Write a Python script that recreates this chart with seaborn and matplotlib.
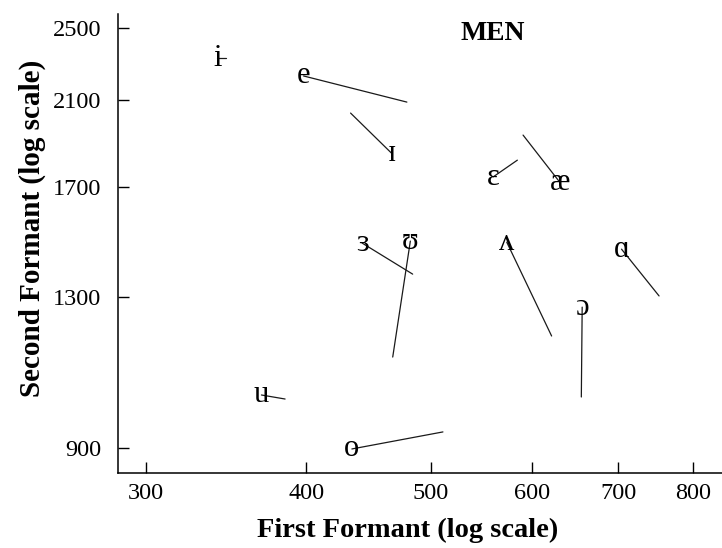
import matplotlib
matplotlib.use("Agg")
import matplotlib.pyplot as plt
import matplotlib.ticker as mticker
import numpy as np
import pandas as pd
import seaborn as sns

# Vowel symbols and formant trajectories (onset -> offset), Hz
vowels   = ["i", "e", "ɪ", "ɛ", "æ", "ɜ", "ʊ", "ʌ", "ɑ", "ɔ", "u", "o"]
f1_start = [341, 398, 466, 559, 630, 442, 482, 573, 704, 656, 369, 434]
f2_start = [2324, 2225, 1844, 1740, 1719, 1482, 1489, 1485, 1460, 1268, 1024, 898]
f1_end   = [346, 479, 433, 584, 590, 484, 467, 621, 753, 655, 385, 511]
f2_end   = [2324, 2088, 2033, 1813, 1927, 1374, 1123, 1182, 1303, 1019, 1014, 936]

x_ticks = [300, 400, 500, 600, 700, 800]
y_ticks = [900, 1300, 1700, 2100, 2500]

sns.set_theme(style="ticks")
plt.rcParams["font.family"] = ["Liberation Serif", "DejaVu Serif"]
plt.rcParams["text.color"] = "black"
plt.rcParams["axes.labelcolor"] = "black"

rows = []
for v, a, b, c, d in zip(vowels, f1_start, f2_start, f1_end, f2_end):
    rows.append({"vowel": v, "phase": 0, "F1": a, "F2": b})
    rows.append({"vowel": v, "phase": 1, "F1": c, "F2": d})
df = pd.DataFrame(rows)

fig = plt.figure(figsize=(7.22, 5.48), dpi=100)
ax = fig.add_axes([118 / 722, 75 / 548, 1 - 118 / 722, (473 - 14) / 548])

sns.lineplot(data=df, x="F1", y="F2", units="vowel", estimator=None, sort=False,
             color="#1a1a1a", linewidth=0.9, ax=ax, legend=False)

for v, a, b in zip(vowels, f1_start, f2_start):
    ax.text(a, b, v, ha="center", va="center", fontsize=22, color="black",
            family=["Liberation Serif", "DejaVu Serif"], zorder=5)

ax.set_xscale("log")
ax.set_yscale("log")
ax.set_xlim(285.3, 843)
ax.set_ylim(847, 2587)

ax.xaxis.set_major_locator(mticker.FixedLocator(x_ticks))
ax.yaxis.set_major_locator(mticker.FixedLocator(y_ticks))
ax.xaxis.set_minor_locator(mticker.NullLocator())
ax.yaxis.set_minor_locator(mticker.NullLocator())
ax.set_xticklabels([str(t) for t in x_ticks])
ax.set_yticklabels([str(t) for t in y_ticks])
ax.tick_params(axis="both", direction="in", length=8, width=1, labelsize=17.5,
               colors="black")
ax.tick_params(axis="y", pad=12)
ax.tick_params(axis="x", pad=7)

for s in ["top", "right"]:
    ax.spines[s].set_visible(False)
for s in ["left", "bottom"]:
    ax.spines[s].set_color("black")
    ax.spines[s].set_linewidth(1.1)

ax.set_xlabel("First Formant (log scale)", fontsize=20.5, fontweight="bold", color="black")
ax.set_ylabel("Second Formant (log scale)", fontsize=21, fontweight="bold", color="black")
ax.xaxis.set_label_coords(0.48, -0.098)
ax.yaxis.set_label_coords(-0.12, 0.534)

ax.text(0.621, 0.985, "MEN", transform=ax.transAxes, ha="center", va="top",
        fontsize=20, fontweight="bold", color="black")

fig.savefig("out.png", dpi=100)
